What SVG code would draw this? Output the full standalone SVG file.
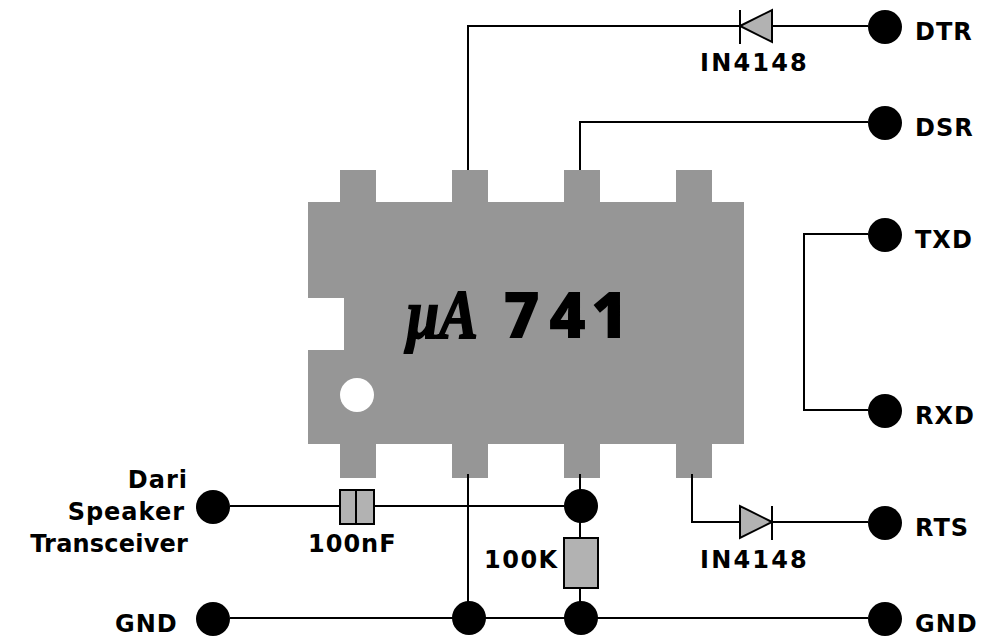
<svg xmlns="http://www.w3.org/2000/svg" width="981" height="638" viewBox="0 0 981 638">
<style>
.w{fill:none;stroke:#000;stroke-width:2}
.p{fill:#b2b2b2;stroke:#000;stroke-width:2}
.d{fill:#000}
.ic{fill:#969696}
text{font-family:"DejaVu Sans",Verdana,sans-serif;font-weight:700;fill:#000;font-size:24px}
</style>
<rect width="981" height="638" fill="#fff"/>
<g id="ic">
<path class="ic" d="M308 202H340V170H376V202H452V170H488V202H564V170H600V202H676V170H712V202H744V444H712V478H676V444H600V478H564V444H488V478H452V444H376V478H340V444H308V350H344V298H308Z"/>
<circle cx="357" cy="395" r="17" fill="#fff"/>
<text x="406" y="338" textLength="72" lengthAdjust="spacingAndGlyphs" stroke="#000" stroke-width="2" style="font-family:'Liberation Serif',serif;font-style:italic;font-size:70px">µA</text>
<text x="503 549 591" y="338" style="font-family:'Open Sans',sans-serif;font-weight:800;font-size:63px">741</text>
</g>
<g id="connectors">
<path class="w" d="M468 170V26H740M772 26H868"/>
<path class="w" d="M580 170V122H868"/>
<path class="w" d="M868 234H804V410H868"/>
<path class="w" d="M692 474V522H740M772 522H868"/>
<path class="w" d="M468 474V618"/>
<path class="w" d="M580 474V490M580 522V538M580 588V602"/>
<path class="w" d="M230 506H340M374 506H564"/>
<path class="w" d="M230 618H868"/>
</g>
<g id="diode-top"><path class="p" d="M740 26L772 10V42Z"/><path class="w" d="M740 10V44"/><text x="700" y="71" letter-spacing="2.2">IN4148</text></g>
<g id="diode-bottom"><path class="p" d="M772 522L740 506V538Z"/><path class="w" d="M772 506V540"/><text x="700" y="568" letter-spacing="2.2">IN4148</text></g>
<g id="capacitor"><rect class="p" x="340" y="490" width="34" height="34"/><path class="w" d="M356 490V524"/><text x="308" y="552" letter-spacing="1">100nF</text></g>
<g id="resistor"><rect class="p" x="564" y="538" width="34" height="50"/><text x="484" y="568" letter-spacing="1.5">100K</text></g>
<g id="j1"><circle class="d" cx="581" cy="506" r="17"/></g>
<g id="j2"><circle class="d" cx="469" cy="618" r="17"/></g>
<g id="j3"><circle class="d" cx="581" cy="618" r="17"/></g>
<g id="dtr"><circle class="d" cx="885" cy="27" r="17"/><text x="915" y="40" letter-spacing="1">DTR</text></g>
<g id="dsr"><circle class="d" cx="885" cy="123" r="17"/><text x="915" y="136" letter-spacing="1">DSR</text></g>
<g id="txd"><circle class="d" cx="885" cy="235" r="17"/><text x="915" y="248" letter-spacing="1">TXD</text></g>
<g id="rxd"><circle class="d" cx="885" cy="411" r="17"/><text x="915" y="424" letter-spacing="1">RXD</text></g>
<g id="rts"><circle class="d" cx="885" cy="523" r="17"/><text x="915" y="536" letter-spacing="1">RTS</text></g>
<g id="gnd-right"><circle class="d" cx="885" cy="619" r="17"/><text x="915" y="632" letter-spacing="1">GND</text></g>
<g id="gnd-left"><circle class="d" cx="213" cy="619" r="17"/><text x="115" y="632" letter-spacing="1">GND</text></g>
<g id="speaker"><circle class="d" cx="213" cy="507" r="17"/>
<text x="188" y="488" text-anchor="end" letter-spacing="1">Dari</text>
<text x="185" y="520" text-anchor="end" letter-spacing="1">Speaker</text>
<text x="188" y="552" text-anchor="end" letter-spacing="0.2">Transceiver</text></g>
</svg>
